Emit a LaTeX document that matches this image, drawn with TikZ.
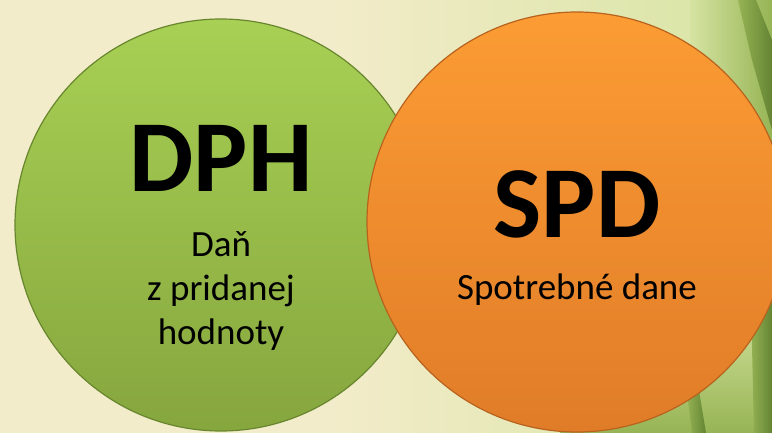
\documentclass[tikz,border=0pt]{standalone}
\usepackage{fontspec}
\setmainfont{Carlito}
\usepackage{tikz}
\usetikzlibrary{positioning}

\definecolor{bgcream}{RGB}{243,236,202}
\definecolor{bglime}{RGB}{214,228,162}
\definecolor{leafgreen}{RGB}{150,180,84}
\definecolor{leafdark}{RGB}{100,132,52}
\definecolor{dphtop}{RGB}{168,208,84}
\definecolor{dphbot}{RGB}{134,166,62}
\definecolor{dphrim}{RGB}{104,134,46}
\definecolor{spdtop}{RGB}{252,156,52}
\definecolor{spdbot}{RGB}{224,124,40}
\definecolor{spdrim}{RGB}{184,98,30}

\begin{document}
\begin{tikzpicture}[
  x=1pt,y=-1pt,
  bubble/.style={circle,inner sep=0pt,line width=1.2pt},
  acronym/.style={font=\fontsize{102}{102}\selectfont\bfseries,inner sep=0pt},
  caption/.style={font=\fontsize{37}{44}\selectfont,align=center,inner sep=0pt}
]
\useasboundingbox (0,0) rectangle (772,433);
% background with the leaves on the right
\fill[bgcream] (0,0) rectangle (772,433);
\shade[left color=bgcream,right color=bglime] (330,0) rectangle (772,433);
\shade[left color=bglime,right color=leafgreen] (600,260) rectangle (772,433);
\shade[top color=bglime,bottom color=leafgreen] (560,300) rectangle (772,433);
\shade[left color=bglime,right color=leafgreen] (690,0) rectangle (772,160);
\shade[left color=leafgreen,right color=leafdark] (738,0) -- (756,0) -- (772,40) -- (772,130) -- (752,60) -- cycle;
\shade[left color=leafgreen,right color=leafdark] (686,385) -- (698,385) -- (706,433) -- (692,433) -- cycle;
\shade[left color=leafgreen,right color=leafdark] (750,260) -- (772,240) -- (772,433) -- (754,433) -- cycle;

\node[bubble,minimum size=412pt,draw=dphrim,top color=dphtop,bottom color=dphbot] (dph) at (221,225) {};
\node[bubble,minimum size=420pt,draw=spdrim,top color=spdtop,bottom color=spdbot] (spd) at (577,222) {};

\node[acronym,anchor=base] (dphT) at (221,192) {DPH};
\node[caption,anchor=north] (dphC) at (221,231) {Daň\\z pridanej\\hodnoty};

\node[acronym,anchor=base] (spdT) at (577,237) {SPD};
\node[caption,anchor=base] (spdC) at (577,299) {Spotrebné dane};
\end{tikzpicture}
\end{document}
